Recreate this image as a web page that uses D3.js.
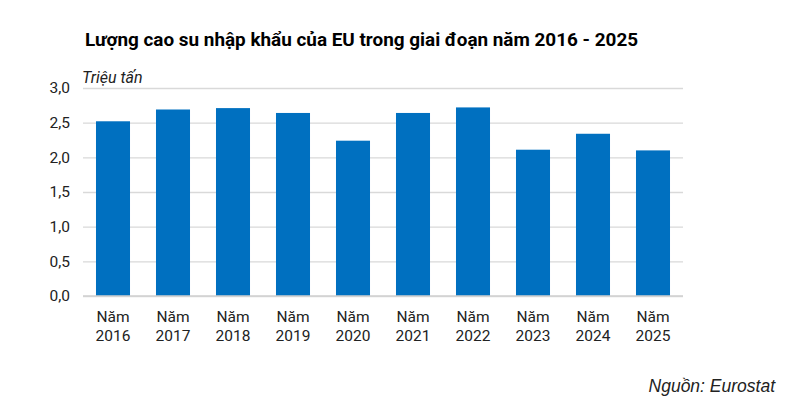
<!DOCTYPE html>
<html><head><meta charset="utf-8">
<script src="https://cdn.jsdelivr.net/npm/d3@7"></script>
<style>body{margin:0;background:#fff;} svg{display:block;}</style>
</head><body><svg id="c" width="800" height="408"></svg>
<script>
const categories = ["2016","2017","2018","2019","2020","2021","2022","2023","2024","2025"];
const values = [2.52, 2.69, 2.71, 2.64, 2.24, 2.64, 2.72, 2.11, 2.34, 2.10];
const yTicks = [0, 0.5, 1.0, 1.5, 2.0, 2.5, 3.0];

const svg = d3.select("#c");
const m = {left: 83, right: 117, top: 88, bottom: 112};
const W = 800, H = 408;
const x = d3.scaleBand().domain(categories).range([m.left, W - m.right]).paddingInner(0.433).paddingOuter(0.2165);
const y = d3.scaleLinear().domain([0, 3]).range([H - m.bottom, m.top]);

svg.append("text").attr("x", 85).attr("y", 46).attr("font-family", "Roboto").attr("font-weight", "bold")
  .attr("font-size", 18.9).attr("fill", "#000").text("Lượng cao su nhập khẩu của EU trong giai đoạn năm 2016 - 2025");

const yAxis = d3.axisLeft(y).tickValues(yTicks).tickSize(-(W - m.left - m.right)).tickPadding(13)
  .tickFormat(d => d3.format(".1f")(d).replace(".", ","));
const gy = svg.append("g").attr("transform", `translate(${m.left},0)`).call(yAxis);
gy.select(".domain").remove();
gy.selectAll(".tick line").attr("stroke", "#d9d9d9").attr("stroke-width", 1.3);
gy.selectAll(".tick text").attr("font-family", "Roboto").attr("font-size", 15.5).attr("fill", "#222");

svg.append("text").attr("x", 82).attr("y", 83).attr("font-family", "Roboto").attr("font-style", "italic")
  .attr("font-size", 16).attr("fill", "#222").text("Triệu tấn");

svg.append("g").selectAll("rect").data(values).join("rect")
  .attr("x", (d, i) => x(categories[i])).attr("width", x.bandwidth())
  .attr("y", d => y(d)).attr("height", d => y(0) - y(d)).attr("fill", "#0070c0");

svg.append("line").attr("x1", m.left).attr("x2", W - m.right).attr("y1", y(0)).attr("y2", y(0))
  .attr("stroke", "#d0d0d0").attr("stroke-width", 1.3);

const xl = svg.append("g").selectAll("text").data(categories).join("text")
  .attr("x", d => x(d) + x.bandwidth() / 2).attr("text-anchor", "middle")
  .attr("font-family", "Roboto").attr("font-size", 15.5).attr("fill", "#222");
xl.append("tspan").attr("x", d => x(d) + x.bandwidth() / 2).attr("y", 322).text("Năm");
xl.append("tspan").attr("x", d => x(d) + x.bandwidth() / 2).attr("y", 341).text(d => d);

svg.append("text").attr("x", 775).attr("y", 392).attr("text-anchor", "end").attr("font-family", "Liberation Sans, Arial")
  .attr("font-style", "italic").attr("font-size", 17.5).attr("fill", "#222").text("Nguồn: Eurostat");
</script></body></html>
